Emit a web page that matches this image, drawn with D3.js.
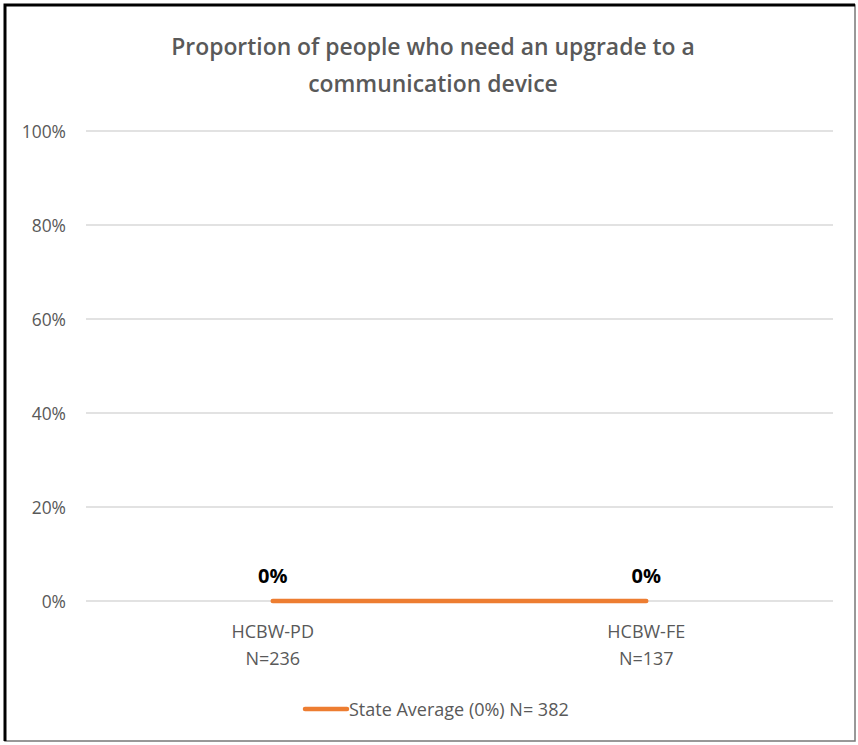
<!DOCTYPE html>
<html><head><meta charset="utf-8">
<script src="https://cdn.jsdelivr.net/npm/d3@7"></script>
<style>
html,body{margin:0;padding:0;background:#fff;}
svg{display:block;}
</style></head>
<body>
<script>
const categories = ["HCBW-PD", "HCBW-FE"];
const categoryNs = ["N=236", "N=137"];
const values = [0, 0];
const stateAverage = [0, 0];
const yTicks = [0, 0.2, 0.4, 0.6, 0.8, 1.0];
const titleLines = ["Proportion of people who need an upgrade to a", "communication device"];
const legendLabel = "State Average (0%) N= 382";

const W = 858, H = 745;
const svg = d3.select("body").append("svg").attr("width", W).attr("height", H);

// frame
svg.append("rect").attr("x", 0).attr("y", 0).attr("width", W).attr("height", H).attr("fill", "#fff");
svg.append("rect").attr("x", 5).attr("y", 5).attr("width", 850).attr("height", 736)
  .attr("fill", "none").attr("stroke", "#777").attr("stroke-width", 1.5);
svg.append("path").attr("d", "M5,741 L5,5 L855,5").attr("fill", "none").attr("stroke", "#000").attr("stroke-width", 3);

const font = "'Open Sans',sans-serif";
const x = d3.scaleBand().domain(categories).range([86, 833]);
const y = d3.scaleLinear().domain([0, 1]).range([601, 131]);

// title
svg.append("g").selectAll("text").data(titleLines).join("text")
  .attr("x", 433).attr("y", (d, i) => 55 + i * 37)
  .attr("text-anchor", "middle").attr("fill", "#595959")
  .attr("font-family", font).attr("font-size", 22.9).attr("font-weight", 600)
  .text(d => d);

// gridlines
svg.append("g").selectAll("line").data(yTicks).join("line")
  .attr("x1", 86).attr("x2", 833).attr("y1", d => y(d)).attr("y2", d => y(d))
  .attr("stroke", "#d9d9d9").attr("stroke-width", 1.3);

// y axis labels
const yAxis = d3.axisLeft(y).tickValues(yTicks).tickFormat(d3.format(".0%")).tickSize(0).tickPadding(0);
const ya = svg.append("g").attr("transform", "translate(66,0)").call(yAxis);
ya.select(".domain").remove();
ya.selectAll("text").attr("fill", "#595959").attr("font-family", font).attr("font-size", 17.4).attr("dy", "0.35em");

// x axis labels
const xa = svg.append("g");
categories.forEach((c, i) => {
  const cx = x(c) + x.bandwidth() / 2;
  const t = xa.append("text").attr("x", cx).attr("text-anchor", "middle")
    .attr("fill", "#595959").attr("font-family", font).attr("font-size", 18);
  t.append("tspan").attr("x", cx).attr("y", 638).text(c);
  t.append("tspan").attr("x", cx).attr("y", 665).text(categoryNs[i]);
});

// bars (zero-height)
svg.append("g").selectAll("rect").data(values).join("rect")
  .attr("x", (d, i) => x(categories[i]) + x.bandwidth() * 0.25)
  .attr("width", x.bandwidth() * 0.5)
  .attr("y", d => y(d)).attr("height", d => y(0) - y(d))
  .attr("fill", "#4472c4");

// state average line
const line = d3.line().x((d, i) => x(categories[i]) + x.bandwidth() / 2).y(d => y(d));
svg.append("path").datum(stateAverage).attr("d", line)
  .attr("fill", "none").attr("stroke", "#ed7d31").attr("stroke-width", 4.5).attr("stroke-linecap", "round");

// data labels
svg.append("g").selectAll("text").data(values).join("text")
  .attr("x", (d, i) => x(categories[i]) + x.bandwidth() / 2)
  .attr("y", d => y(d) - 18)
  .attr("text-anchor", "middle").attr("fill", "#000")
  .attr("font-family", font).attr("font-weight", "bold").attr("font-size", 20)
  .text(d => d3.format(".0%")(d));

// legend
const lg = svg.append("g");
lg.append("line").attr("x1", 305).attr("x2", 347).attr("y1", 709).attr("y2", 709)
  .attr("stroke", "#ed7d31").attr("stroke-width", 4.5).attr("stroke-linecap", "round");
lg.append("text").attr("x", 349).attr("y", 716).attr("fill", "#595959")
  .attr("font-family", font).attr("font-size", 18).text(legendLabel);
</script>
</body></html>
